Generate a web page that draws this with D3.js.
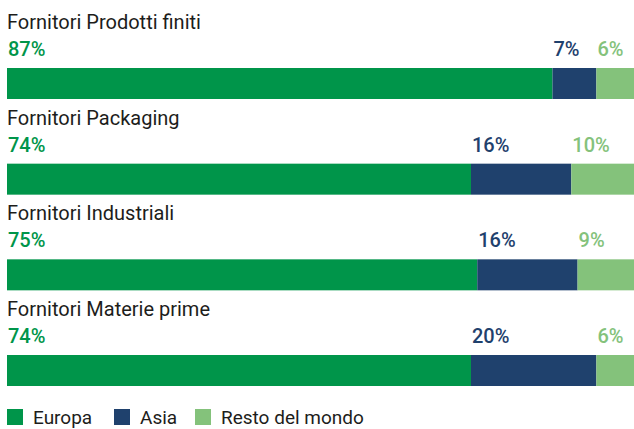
<!DOCTYPE html>
<html>
<head>
<meta charset="utf-8">
<script src="https://cdn.jsdelivr.net/npm/d3@7"></script>
<style>
  body { margin: 0; background: #fff; }
  text { font-family: Roboto, "DejaVu Sans", sans-serif; }
</style>
</head>
<body>
<div id="chart"></div>
<script>
// Fornitori per area geografica
const categories = ['Fornitori Prodotti finiti', 'Fornitori Packaging', 'Fornitori Industriali', 'Fornitori Materie prime']
const europa = [87, 74, 75, 74]
const asia = [7, 16, 16, 20]
const resto = [6, 10, 9, 6]
const seriesNames = ['Europa', 'Asia', 'Resto del mondo']

const colors = ['#00954a', '#1f416d', '#84c27b']

const width = 634
const height = 429

const svg = d3.select('#chart')
  .append('svg')
  .attr('width', width)
  .attr('height', height)

const rows = categories.map((c, i) => ({ name: c, Europa: europa[i], Asia: asia[i], 'Resto del mondo': resto[i] }))
const stacked = d3.stack().keys(seriesNames)(rows)

// scales
const x = d3.scaleLinear().domain([0, 100]).range([7, 634])
const y = d3.scaleBand()
  .domain(categories)
  .range([68, 386])
  .paddingInner(0.676)
  .paddingOuter(0)
const color = d3.scaleOrdinal().domain(seriesNames).range(colors)

// bars
const layer = svg.selectAll('g.layer')
  .data(stacked)
  .enter()
  .append('g')
  .attr('class', 'layer')
  .attr('fill', d => color(d.key))

layer.selectAll('rect')
  .data(d => d)
  .enter()
  .append('rect')
  .attr('x', d => x(d[0]))
  .attr('y', d => y(d.data.name))
  .attr('width', d => x(d[1]) - x(d[0]))
  .attr('height', y.bandwidth())

// percentage labels, left aligned at each segment start
layer.selectAll('text')
  .data(d => d.map(v => ({ v, key: d.key })))
  .enter()
  .append('text')
  .attr('x', d => x(d.v[0]) + 1)
  .attr('y', d => y(d.v.data.name) - 12)
  .attr('fill', d => color(d.key))
  .style('font-size', '20px')
  .style('font-weight', 500)
  .text(d => `${d.v.data[d.key]}%`)

// category titles
svg.selectAll('text.title')
  .data(categories)
  .enter()
  .append('text')
  .attr('class', 'title')
  .attr('x', 7)
  .attr('y', d => y(d) - 39)
  .attr('fill', '#1d1d1b')
  .style('font-size', '20px')
  .text(d => d)

// legend
const legendX = [7, 114, 195]
const legend = svg.append('g').attr('id', 'legend')
const item = legend.selectAll('g')
  .data(seriesNames)
  .enter()
  .append('g')
  .attr('transform', (d, i) => `translate(${legendX[i]}, 409)`)

item.append('rect')
  .attr('width', 16)
  .attr('height', 16)
  .attr('fill', d => color(d))

item.append('text')
  .attr('x', 26)
  .attr('y', 15)
  .attr('fill', '#1d1d1b')
  .style('font-size', '19px')
  .text(d => d)
</script>
</body>
</html>
